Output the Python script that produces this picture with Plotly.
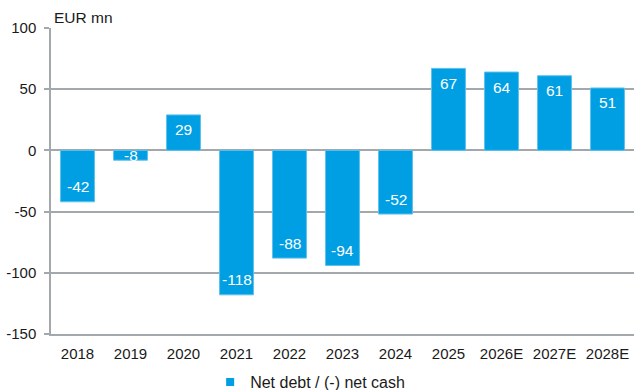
import plotly.graph_objects as go

# Net debt by year, EUR mn (E = estimate)
years = ["2018", "2019", "2020", "2021", "2022", "2023", "2024",
         "2025", "2026E", "2027E", "2028E"]
net_debt = [-42, -8, 29, -118, -88, -94, -52, 67, 64, 61, 51]
series_name = "Net debt / (-) net cash"
y_ticks = [-150, -100, -50, 0, 50, 100]
y_range = [-150, 100]

bar_color = "#009FE3"
grid_color = "#A3A8AD"
text_color = "#1a1a1a"
font_family = "Liberation Sans, Arial, sans-serif"

# plot-area geometry, used to place value labels a fixed distance inside the bar end
margin_t, margin_b = 28, 56
plot_h = 390 - margin_t - margin_b
px_per_unit = plot_h / (y_range[1] - y_range[0])
label_inset = 15


def label_pos(v):
    """Value label near the bar's outer end; centred on very short bars."""
    bar_px = abs(v) * px_per_unit
    if bar_px < 2 * label_inset:
        return v / 2, 0
    return v, -label_inset if v > 0 else label_inset


fig = go.Figure()
fig.add_trace(go.Bar(
    x=years,
    y=net_debt,
    name=series_name,
    marker=dict(color=bar_color, line=dict(color="#5EC0EC", width=1)),
    showlegend=False,
    hoverinfo="x+y",
))
# legend entry drawn as a small square key (no visible point)
fig.add_trace(go.Scatter(
    x=[years[0]], y=[None],
    mode="markers",
    name=series_name,
    marker=dict(symbol="square", size=8, color=bar_color),
    showlegend=True,
    hoverinfo="skip",
))

# value labels, placed by category index (year strings would read as numbers)
annotations = []
for i, v in enumerate(net_debt):
    y_at, shift = label_pos(v)
    annotations.append(dict(
        x=i, y=y_at, yshift=shift,
        text=f"{v:d}",
        showarrow=False,
        xanchor="center", yanchor="middle",
        font=dict(color="white", size=15.5, family=font_family),
    ))
annotations.append(dict(
    text="EUR mn",
    xref="paper", yref="paper",
    x=0.0, y=1.0, xanchor="left", yanchor="bottom",
    showarrow=False,
    font=dict(size=15.5, color=text_color, family=font_family),
    xshift=1, yshift=0,
))

fig.update_layout(
    width=634,
    height=390,
    margin=dict(l=51, r=0, t=margin_t, b=margin_b, autoexpand=False),
    paper_bgcolor="white",
    plot_bgcolor="white",
    bargap=0.36,
    font=dict(family=font_family, size=15, color=text_color),
    showlegend=True,
    legend=dict(
        orientation="h",
        x=0.273, xanchor="left",
        y=-0.102, yanchor="top",
        font=dict(size=16, color=text_color),
        itemwidth=30,
        bgcolor="rgba(0,0,0,0)",
    ),
    xaxis=dict(
        type="category",
        categoryorder="array",
        categoryarray=years,
        range=[-0.5, len(years) - 0.5],
        showgrid=False,
        showline=True,
        linecolor=grid_color,
        linewidth=1.5,
        ticks="",
        ticklabelstandoff=5,
        tickfont=dict(size=15, color=text_color),
    ),
    yaxis=dict(
        range=y_range,
        tickvals=y_ticks,
        ticktext=[str(t) for t in y_ticks],
        showgrid=True,
        gridcolor=grid_color,
        gridwidth=1.5,
        zeroline=True,
        zerolinecolor=grid_color,
        zerolinewidth=1.5,
        showline=True,
        linecolor=grid_color,
        linewidth=1.5,
        ticks="outside",
        ticklen=5,
        tickcolor=grid_color,
        tickwidth=1.5,
        ticklabelstandoff=5,
        tickfont=dict(size=15, color=text_color),
    ),
    annotations=annotations,
)

fig.write_html("out.html")
